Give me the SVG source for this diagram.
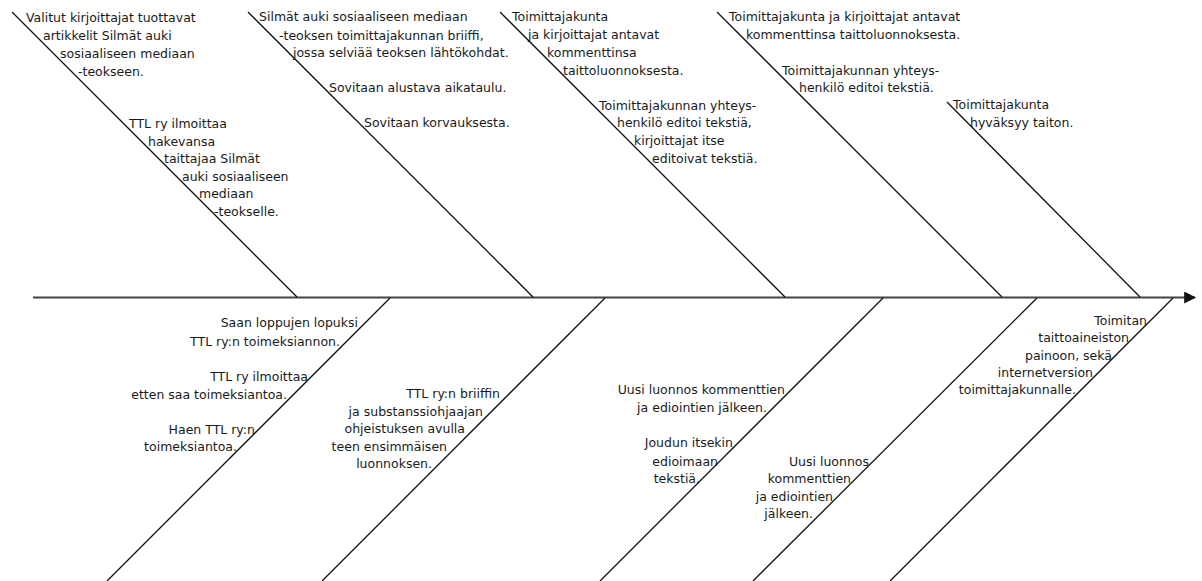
<svg xmlns="http://www.w3.org/2000/svg" width="1202" height="581" viewBox="0 0 1202 581">
<style>
.bone{stroke:#111;stroke-width:1.3;fill:none}
.spine{stroke:#444;stroke-width:2;fill:none}
text{font-family:"DejaVu Sans","Liberation Sans",sans-serif;font-size:12.5px;fill:#1a1a1a}
.r{text-anchor:end}
</style>
<defs>
<marker id="arrow" viewBox="0 0 10 10" refX="9" refY="5" markerWidth="6" markerHeight="6" orient="auto" markerUnits="strokeWidth">
<path d="M0,0 L10,5 L0,10 z" fill="#111"/>
</marker>
</defs>
<rect width="1202" height="581" fill="#fff"/>
<g id="connectors">
<line class="spine" x1="33" y1="297.5" x2="1195" y2="297.5" marker-end="url(#arrow)"/>
<line class="bone" x1="12" y1="12" x2="297" y2="297"/>
<line class="bone" x1="248" y1="12" x2="533" y2="297"/>
<line class="bone" x1="500" y1="12" x2="785" y2="297"/>
<line class="bone" x1="717" y1="12" x2="1002" y2="297"/>
<line class="bone" x1="947" y1="102" x2="1140" y2="297"/>
<line class="bone" x1="390" y1="298" x2="107" y2="581"/>
<line class="bone" x1="605" y1="298" x2="322" y2="581"/>
<line class="bone" x1="883" y1="298" x2="600" y2="581"/>
<line class="bone" x1="1037" y1="298" x2="753" y2="581"/>
<line class="bone" x1="1173" y1="298" x2="890" y2="581"/>
</g>
<g id="node-t1a">
<text x="26" y="22">Valitut kirjoittajat tuottavat</text>
<text x="43" y="40">artikkelit Silmät auki</text>
<text x="60" y="58">sosiaaliseen mediaan</text>
<text x="78" y="76">-teokseen.</text>
</g>
<g id="node-t1b">
<text x="129" y="128">TTL ry ilmoittaa</text>
<text x="148" y="146">hakevansa</text>
<text x="164" y="163">taittajaa Silmät</text>
<text x="182" y="181">auki sosiaaliseen</text>
<text x="199" y="198">mediaan</text>
<text x="214" y="216">-teokselle.</text>
</g>
<g id="node-t2a">
<text x="259" y="21">Silmät auki sosiaaliseen mediaan</text>
<text x="279" y="40">-teoksen toimittajakunnan briiffi,</text>
<text x="293" y="57">jossa selviää teoksen lähtökohdat.</text>
</g>
<g id="node-t2b"><text x="329" y="92">Sovitaan alustava aikataulu.</text></g>
<g id="node-t2c"><text x="364" y="127">Sovitaan korvauksesta.</text></g>
<g id="node-t3a">
<text x="512" y="21">Toimittajakunta</text>
<text x="528" y="39">ja kirjoittajat antavat</text>
<text x="547" y="57">kommenttinsa</text>
<text x="563" y="75">taittoluonnoksesta.</text>
</g>
<g id="node-t3b">
<text x="599" y="110">Toimittajakunnan yhteys-</text>
<text x="617" y="127">henkilö editoi tekstiä,</text>
<text x="634" y="145">kirjoittajat itse</text>
<text x="652" y="163">editoivat tekstiä.</text>
</g>
<g id="node-t4a">
<text x="729" y="21">Toimittajakunta ja kirjoittajat antavat</text>
<text x="746" y="39">kommenttinsa taittoluonnoksesta.</text>
</g>
<g id="node-t4b">
<text x="782" y="75">Toimittajakunnan yhteys-</text>
<text x="799" y="92">henkilö editoi tekstiä.</text>
</g>
<g id="node-t5a">
<text x="953" y="109">Toimittajakunta</text>
<text x="970" y="127">hyväksyy taiton.</text>
</g>
<g id="node-b1a">
<text class="r" x="358" y="327">Saan loppujen lopuksi</text>
<text class="r" x="340" y="346">TTL ry:n toimeksiannon.</text>
</g>
<g id="node-b1b">
<text class="r" x="308" y="381">TTL ry ilmoittaa</text>
<text class="r" x="287" y="399">etten saa toimeksiantoa.</text>
</g>
<g id="node-b1c">
<text class="r" x="255" y="434">Haen TTL ry:n</text>
<text class="r" x="237" y="451">toimeksiantoa.</text>
</g>
<g id="node-b2a">
<text class="r" x="500" y="398">TTL ry:n briiffin</text>
<text class="r" x="483" y="416">ja substanssiohjaajan</text>
<text class="r" x="465" y="433">ohjeistuksen avulla</text>
<text class="r" x="447" y="451">teen ensimmäisen</text>
<text class="r" x="432" y="468">luonnoksen.</text>
</g>
<g id="node-b3a">
<text class="r" x="785" y="394">Uusi luonnos kommenttien</text>
<text class="r" x="767" y="412">ja ediointien jälkeen.</text>
</g>
<g id="node-b3b">
<text class="r" x="733" y="447">Joudun itsekin</text>
<text class="r" x="718" y="466">edioimaan</text>
<text class="r" x="700" y="483">tekstiä.</text>
</g>
<g id="node-b4a">
<text class="r" x="869" y="466">Uusi luonnos</text>
<text class="r" x="851" y="483">kommenttien</text>
<text class="r" x="833" y="501">ja ediointien</text>
<text class="r" x="813" y="518">jälkeen.</text>
</g>
<g id="node-b5a">
<text class="r" x="1147" y="325">Toimitan</text>
<text class="r" x="1129" y="342">taittoaineiston</text>
<text class="r" x="1112" y="360">painoon, sekä</text>
<text class="r" x="1093" y="377">internetversion</text>
<text class="r" x="1076" y="394">toimittajakunnalle.</text>
</g>
</svg>
